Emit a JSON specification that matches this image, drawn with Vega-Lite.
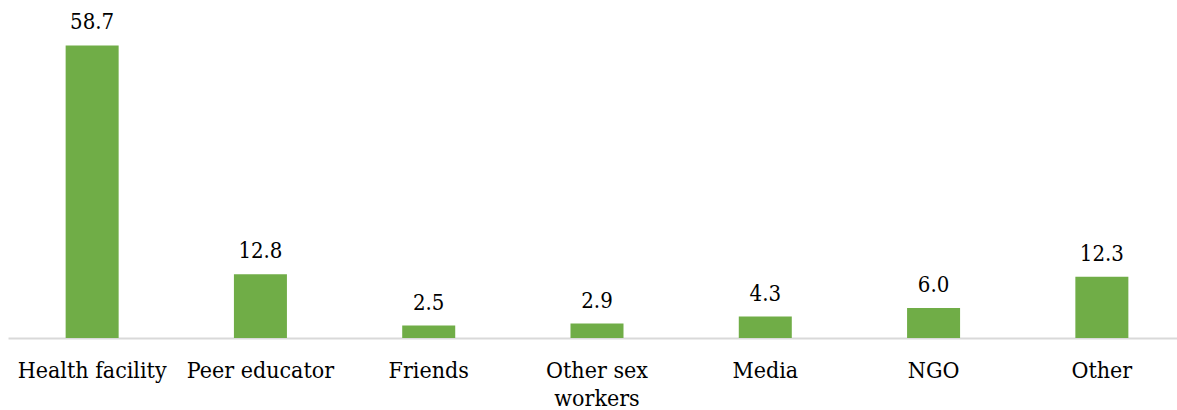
{
  "$schema": "https://vega.github.io/schema/vega-lite/v6.json",
  "width": 1169,
  "height": 299,
  "autosize": {"type": "none"},
  "padding": {"left": 8, "top": 39, "right": 0, "bottom": 72},
  "background": "white",
  "config": {
    "view": {"stroke": null}
  },
  "data": {
    "values": [
      {"source": "Health facility", "pct": 58.7},
      {"source": "Peer educator", "pct": 12.8},
      {"source": "Friends", "pct": 2.5},
      {"source": "Other sex workers", "pct": 2.9},
      {"source": "Media", "pct": 4.3},
      {"source": "NGO", "pct": 6.0},
      {"source": "Other", "pct": 12.3}
    ]
  },
  "encoding": {
    "x": {
      "field": "source",
      "type": "nominal",
      "sort": null,
      "scale": {"range": [0, 1178], "paddingInner": 0.685, "paddingOuter": 0.3425},
      "axis": {
        "title": null,
        "ticks": false,
        "labelAngle": 0,
        "labelFont": "DejaVu Serif Condensed",
        "labelFontSize": 23,
        "labelLimit": 0,
        "labelOverlap": false,
        "labelColor": "#000000",
        "labelPadding": 21,
        "labelLineHeight": 28,
        "labelExpr": "datum.label == 'Other sex workers' ? ['Other sex', 'workers'] : datum.label",
        "domainColor": "#D9D9D9",
        "domainWidth": 2
      }
    },
    "y": {
      "field": "pct",
      "type": "quantitative",
      "scale": {"domain": [0, 60], "nice": false},
      "axis": null
    }
  },
  "layer": [
    {"mark": {"type": "bar", "color": "#70AD47"}},
    {
      "mark": {
        "type": "text",
        "baseline": "alphabetic",
        "dy": -16,
        "font": "DejaVu Serif Condensed",
        "fontSize": 22,
        "color": "#000000"
      },
      "encoding": {
        "text": {"field": "pct", "type": "quantitative", "format": ".1f"}
      }
    }
  ]
}
